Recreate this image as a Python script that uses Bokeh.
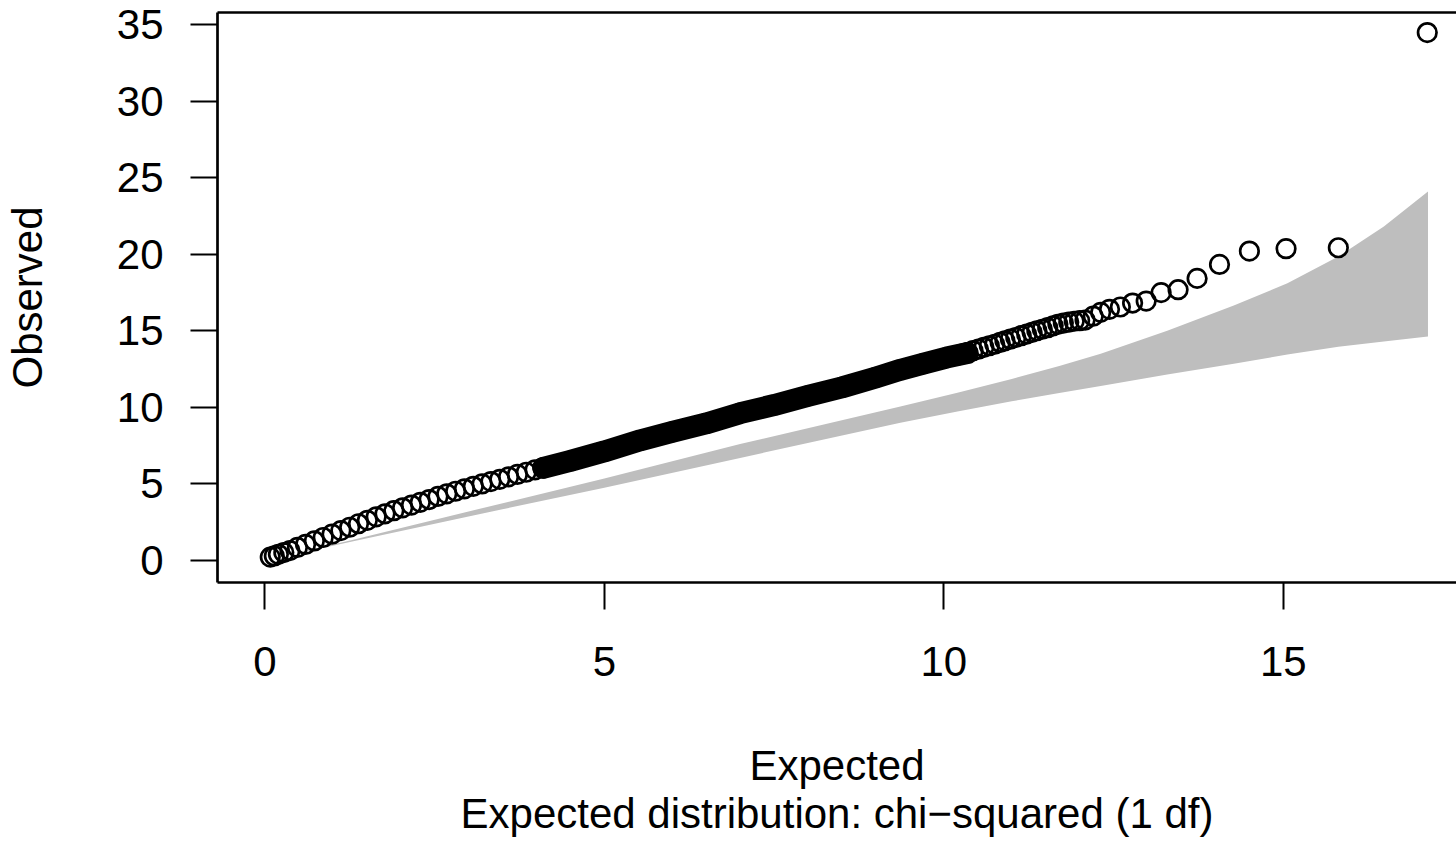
from bokeh.plotting import figure
from bokeh.models import Range1d, LinearAxis, FixedTicker
from bokeh.embed import file_html
from bokeh.resources import INLINE

# thinned low-end points (expected, observed)
thin_x = [0.08, 0.14, 0.20, 0.28, 0.37, 0.48, 0.60, 0.73, 0.86, 0.99, 1.12, 1.25,
          1.38, 1.51, 1.64, 1.77, 1.90, 2.03, 2.16, 2.29, 2.42, 2.55, 2.68, 2.81,
          2.94, 3.07, 3.20, 3.33, 3.46, 3.59, 3.72, 3.85, 3.98, 4.10]
thin_y = [0.22, 0.30, 0.40, 0.52, 0.65, 0.85, 1.05, 1.28, 1.50, 1.72, 1.95, 2.17,
          2.40, 2.62, 2.85, 3.05, 3.25, 3.44, 3.62, 3.80, 3.98, 4.18, 4.35, 4.52,
          4.68, 4.84, 5.00, 5.15, 5.30, 5.46, 5.62, 5.76, 5.92, 6.05]

# dense section (all points plotted, forms a solid band)
dense_x = [4.10, 4.50, 5.00, 5.53, 6.00, 6.50, 7.00, 7.50, 8.00, 8.50, 9.00,
           9.36, 9.70, 10.04, 10.35]
dense_y = [6.05, 6.50, 7.12, 7.85, 8.40, 8.95, 9.62, 10.15, 10.75, 11.30, 11.95,
           12.45, 12.85, 13.25, 13.55]

# upper tail points
tail_x = [10.20, 10.28, 10.35, 10.43, 10.51, 10.59, 10.67, 10.75, 10.83, 10.90,
          10.98, 11.06, 11.14, 11.22, 11.30, 11.37, 11.45, 11.53, 11.61, 11.68,
          11.76, 11.84, 11.92, 12.00, 12.08, 12.20, 12.31, 12.44, 12.60, 12.78,
          12.98, 13.20, 13.45, 13.73, 14.06, 14.50, 15.04, 15.81, 17.12]
tail_y = [13.40, 13.50, 13.58, 13.70, 13.80, 13.92, 14.02, 14.12, 14.24, 14.34,
          14.45, 14.56, 14.68, 14.78, 14.90, 15.00, 15.10, 15.20, 15.32, 15.42,
          15.50, 15.56, 15.62, 15.66, 15.70, 15.95, 16.20, 16.40, 16.55, 16.81,
          16.94, 17.49, 17.68, 18.42, 19.33, 20.20, 20.36, 20.42, 34.47]

# concentration band
band_x = [0.50, 1.27, 3.00, 5.00, 7.00, 9.36, 10.20, 11.00, 11.70, 12.31, 13.29,
          14.27, 15.06, 15.81, 16.48, 17.13]
band_lo = [0.48, 1.22, 2.88, 4.75, 6.70, 9.00, 9.72, 10.40, 10.93, 11.40, 12.15,
           12.85, 13.45, 13.95, 14.30, 14.63]
band_hi = [0.52, 1.32, 3.20, 5.35, 7.60, 10.05, 10.95, 11.85, 12.70, 13.50, 15.00,
           16.65, 18.10, 19.85, 21.80, 24.10]

x_ticks = [0, 5, 10, 15]
y_ticks = [0, 5, 10, 15, 20, 25, 30, 35]
x_title = "Expected"
sub_title = "Expected distribution: chi\u2212squared (1 df)"
y_title = "Observed"

FONT = "Liberation Sans"
FS = "42px"

p = figure(width=1456, height=844,
           x_range=Range1d(-0.697, 17.55), y_range=Range1d(-1.437, 35.78),
           output_backend="svg", toolbar_location=None,
           min_border_left=217, min_border_right=0, min_border_top=12,
           min_border_bottom=262)
p.outline_line_color = None
p.grid.visible = False
p.background_fill_color = "white"
p.border_fill_color = "white"

for ax, ticks in ((p.xaxis[0], x_ticks), (p.yaxis[0], y_ticks)):
    ax.ticker = FixedTicker(ticks=ticks)
    ax.axis_line_width = 2.7
    ax.axis_line_color = "black"
    ax.major_tick_line_width = 2
    ax.major_tick_line_color = "black"
    ax.major_tick_out = 27
    ax.major_tick_in = 0
    ax.minor_tick_line_color = None
    ax.major_label_text_font = FONT
    ax.major_label_text_font_size = FS
    ax.major_label_text_color = "black"
    ax.axis_label_text_font = FONT
    ax.axis_label_text_font_size = FS
    ax.axis_label_text_font_style = "normal"
    ax.axis_label_text_color = "black"
p.yaxis[0].major_label_standoff = 27
p.xaxis[0].major_label_standoff = 37
p.xaxis[0].axis_label = x_title + "\n" + sub_title
p.xaxis[0].axis_label_standoff = 63
p.xaxis[0].axis_label_text_line_height = 1.04
p.yaxis[0].axis_label = y_title
p.yaxis[0].axis_label_standoff = 63

top = LinearAxis(ticker=FixedTicker(ticks=[]), axis_line_width=2.7,
                 axis_line_color="black", major_tick_line_color=None,
                 minor_tick_line_color=None, major_label_text_font_size="0px")
p.add_layout(top, "above")

p.varea(x=band_x, y1=band_lo, y2=band_hi, fill_color="#BEBEBE")

p.line(dense_x, dense_y, line_width=22, line_color="black",
       line_cap="round", line_join="round")

all_x = thin_x + dense_x + tail_x
all_y = thin_y + dense_y + tail_y
p.scatter(all_x, all_y, marker="circle", size=18.5, fill_color=None,
          line_color="black", line_width=2.7)

open("out.html", "w").write(file_html(p, INLINE))
